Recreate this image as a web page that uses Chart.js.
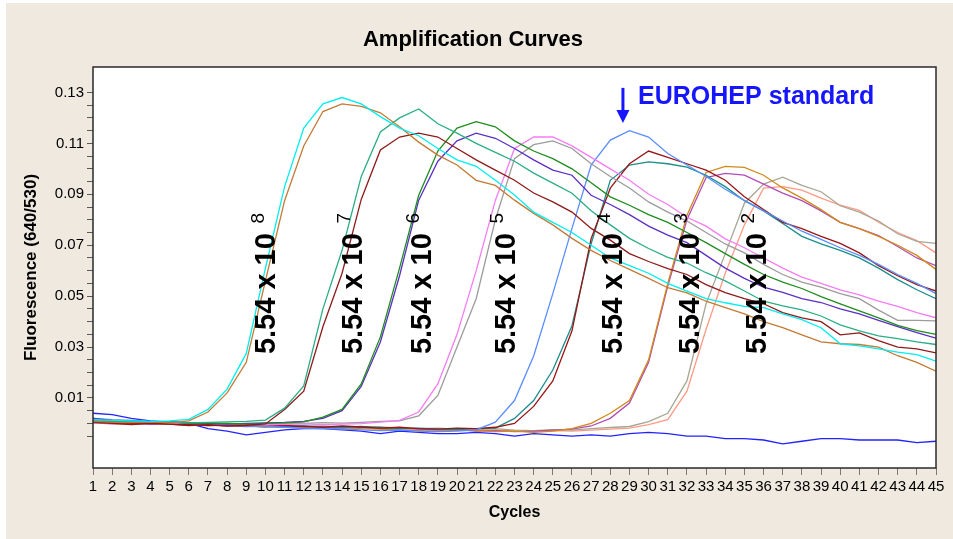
<!DOCTYPE html>
<html>
<head>
<meta charset="utf-8">
<title>Amplification Curves</title>
<script src="https://cdn.jsdelivr.net/npm/chart.js"></script>
<style>
  html, body { margin: 0; padding: 0; background: #ffffff; }
</style>
</head>
<body>
<canvas id="ampChart" width="953" height="539"></canvas>
<script>
// Cycle numbers (x axis)
const cycles = [1,2,3,4,5,6,7,8,9,10,11,12,13,14,15,16,17,18,19,20,21,22,23,
  24,25,26,27,28,29,30,31,32,33,34,35,36,37,38,39,40,41,42,43,44,45];

// Y axis ticks: minor every 0.005, labels on the odd hundredths
const yTickValues = [-0.005,0,0.005,0.01,0.015,0.02,0.025,0.03,0.035,0.04,0.045,0.05,
  0.055,0.06,0.065,0.07,0.075,0.08,0.085,0.09,0.095,0.1,0.105,0.11,0.115,0.12,0.125,0.13];
const yLabelValues = [0.01,0.03,0.05,0.07,0.09,0.11,0.13];

// Fluorescence (640/530) per cycle, one array per sample
const cyan8 = [0.0015,0.0012,0.0010,0.0008,0.0010,0.0016,0.0055,0.0135,0.0275,0.0610,
  0.0930,0.1160,0.1255,0.1280,0.1255,0.1205,0.1160,0.1130,0.1080,0.1035,
  0.1010,0.0955,0.0897,0.0830,0.0790,0.0750,0.0700,0.0650,0.0620,0.0590,
  0.0550,0.0520,0.0490,0.0474,0.0460,0.0455,0.0430,0.0408,0.0376,0.0313,
  0.0305,0.0293,0.0280,0.0270,0.0245];
const brown8 = [0.0008,0.0005,0.0003,0.0006,0.0002,0.0010,0.0045,0.0120,0.0240,0.0560,
  0.0875,0.1090,0.1225,0.1255,0.1245,0.1220,0.1165,0.1105,0.1054,0.1015,
  0.0955,0.0935,0.0877,0.0825,0.0780,0.0727,0.0680,0.0640,0.0605,0.0570,
  0.0533,0.0513,0.0480,0.0455,0.0430,0.0400,0.0376,0.0348,0.0320,0.0313,
  0.0310,0.0300,0.0266,0.0240,0.0205];
const tealGreen7 = [0.0012,0.0010,0.0008,0.0004,0.0006,0.0002,0.0004,0.0006,0.0008,0.0013,
  0.0060,0.0147,0.0450,0.0680,0.0970,0.1145,0.1200,0.1235,0.1177,0.1140,
  0.1100,0.1065,0.1030,0.0983,0.0944,0.0904,0.0835,0.0780,0.0727,0.0687,
  0.0652,0.0630,0.0592,0.0560,0.0520,0.0480,0.0462,0.0446,0.0422,0.0387,
  0.0364,0.0344,0.0333,0.0320,0.0310];
const darkRed7 = [0.0005,0.0000,-0.0005,0.0000,-0.0003,-0.0008,-0.0005,-0.0010,-0.0007,-0.0002,
  0.0055,0.0127,0.0380,0.0590,0.0880,0.1074,0.1125,0.1140,0.1125,0.1080,
  0.1035,0.0995,0.0955,0.0905,0.0870,0.0830,0.0766,0.0720,0.0667,0.0636,
  0.0608,0.0585,0.0545,0.0514,0.0490,0.0470,0.0435,0.0415,0.0400,0.0348,
  0.0356,0.0325,0.0300,0.0293,0.0277];
const green6 = [0.0010,0.0008,0.0005,0.0003,0.0006,0.0000,0.0002,0.0000,-0.0003,0.0000,
  0.0002,0.0006,0.0025,0.0055,0.0155,0.0340,0.0610,0.0896,0.1070,0.1160,
  0.1185,0.1165,0.1110,0.1070,0.1040,0.1000,0.0945,0.0890,0.0857,0.0820,
  0.0790,0.0750,0.0710,0.0667,0.0625,0.0585,0.0555,0.0530,0.0498,0.0470,
  0.0442,0.0415,0.0385,0.0365,0.0350];
const purple6 = [0.0020,0.0012,0.0010,0.0005,0.0005,0.0002,0.0000,-0.0003,0.0000,0.0002,
  0.0004,0.0008,0.0020,0.0050,0.0145,0.0320,0.0580,0.0877,0.1030,0.1110,
  0.1140,0.1120,0.1080,0.1035,0.0995,0.0975,0.0896,0.0860,0.0820,0.0775,
  0.0740,0.0710,0.0660,0.0610,0.0570,0.0535,0.0515,0.0490,0.0475,0.0450,
  0.0430,0.0405,0.0380,0.0357,0.0335];
const pink5 = [0.0010,0.0006,0.0004,0.0006,0.0002,0.0000,-0.0002,0.0000,-0.0003,-0.0006,
  -0.0004,-0.0002,-0.0005,-0.0003,-0.0001,0.0005,0.0012,0.0045,0.0155,0.0350,
  0.0600,0.0876,0.1080,0.1125,0.1125,0.1090,0.1045,0.1000,0.0955,0.0900,
  0.0860,0.0810,0.0775,0.0725,0.0690,0.0650,0.0610,0.0575,0.0550,0.0525,
  0.0505,0.0480,0.0460,0.0435,0.0415];
const gray5 = [0.0012,0.0008,0.0006,0.0003,0.0004,0.0001,0.0000,-0.0003,-0.0001,-0.0004,
  -0.0002,0.0000,0.0003,0.0001,0.0004,0.0008,0.0010,0.0030,0.0110,0.0300,
  0.0490,0.0800,0.1040,0.1095,0.1110,0.1080,0.1020,0.0970,0.0925,0.0870,
  0.0830,0.0795,0.0750,0.0705,0.0670,0.0625,0.0585,0.0555,0.0535,0.0510,
  0.0490,0.0445,0.0405,0.0405,0.0403];
const eurohep = [0.0020,0.0015,0.0012,0.0008,0.0006,0.0002,-0.0002,-0.0006,-0.0010,-0.0012,
  -0.0015,-0.0018,-0.0020,-0.0022,-0.0025,-0.0028,-0.0026,-0.0030,-0.0032,-0.0030,
  -0.0025,0.0005,0.0090,0.0265,0.0510,0.0766,0.1015,0.1113,0.1150,0.1125,
  0.1060,0.1015,0.0970,0.0920,0.0876,0.0835,0.0795,0.0755,0.0723,0.0690,
  0.0660,0.0625,0.0585,0.0550,0.0510];
const darkRed4 = [0.0008,0.0004,0.0000,0.0003,-0.0002,-0.0005,-0.0008,-0.0006,-0.0010,-0.0012,
  -0.0008,-0.0012,-0.0015,-0.0010,-0.0014,-0.0018,-0.0015,-0.0020,-0.0022,-0.0018,
  -0.0020,-0.0015,0.0000,0.0067,0.0167,0.0364,0.0726,0.0924,0.1020,0.1070,
  0.1045,0.1020,0.0995,0.0955,0.0890,0.0840,0.0790,0.0765,0.0735,0.0707,
  0.0670,0.0620,0.0580,0.0545,0.0520];
const teal4 = [0.0006,0.0003,0.0001,0.0002,-0.0002,-0.0004,-0.0006,-0.0008,-0.0006,-0.0010,
  -0.0012,-0.0010,-0.0014,-0.0016,-0.0012,-0.0016,-0.0020,-0.0018,-0.0022,-0.0024,
  -0.0020,-0.0018,0.0020,0.0090,0.0210,0.0384,0.0706,0.0955,0.1015,0.1027,
  0.1020,0.1007,0.0975,0.0930,0.0875,0.0835,0.0785,0.0735,0.0705,0.0680,
  0.0650,0.0610,0.0565,0.0525,0.0490];
const orange3 = [0.0004,0.0000,-0.0003,0.0001,-0.0004,-0.0006,-0.0008,-0.0006,-0.0010,-0.0014,
  -0.0012,-0.0015,-0.0018,-0.0015,-0.0020,-0.0022,-0.0025,-0.0028,-0.0030,-0.0025,
  -0.0028,-0.0032,-0.0030,-0.0035,-0.0030,-0.0020,0.0000,0.0040,0.0090,0.0250,
  0.0550,0.0817,0.0986,0.1010,0.1006,0.0975,0.0925,0.0885,0.0840,0.0790,
  0.0765,0.0735,0.0700,0.0660,0.0605];
const magenta3 = [0.0002,-0.0002,0.0000,-0.0004,-0.0003,-0.0007,-0.0005,-0.0009,-0.0012,-0.0010,
  -0.0014,-0.0012,-0.0016,-0.0018,-0.0015,-0.0020,-0.0018,-0.0022,-0.0026,-0.0024,
  -0.0030,-0.0028,-0.0032,-0.0030,-0.0026,-0.0022,-0.0010,0.0020,0.0080,0.0240,
  0.0540,0.0800,0.0966,0.0982,0.0975,0.0940,0.0905,0.0875,0.0835,0.0790,
  0.0765,0.0738,0.0695,0.0650,0.0620];
const grayGreen2 = [0.0010,0.0006,0.0004,0.0001,0.0002,-0.0002,-0.0004,-0.0002,-0.0006,-0.0008,
  -0.0010,-0.0012,-0.0010,-0.0014,-0.0016,-0.0014,-0.0018,-0.0020,-0.0018,-0.0022,
  -0.0024,-0.0020,-0.0026,-0.0028,-0.0024,-0.0026,-0.0020,-0.0016,-0.0012,0.0007,
  0.0040,0.0167,0.0470,0.0667,0.0865,0.0940,0.0967,0.0935,0.0910,0.0855,
  0.0830,0.0795,0.0745,0.0715,0.0707];
const salmon2 = [0.0003,0.0000,0.0002,-0.0002,-0.0004,-0.0003,-0.0007,-0.0010,-0.0008,-0.0012,
  -0.0014,-0.0012,-0.0016,-0.0018,-0.0015,-0.0020,-0.0022,-0.0020,-0.0024,-0.0026,
  -0.0028,-0.0025,-0.0030,-0.0032,-0.0028,-0.0030,-0.0026,-0.0022,-0.0018,-0.0005,
  0.0015,0.0127,0.0370,0.0590,0.0780,0.0924,0.0930,0.0916,0.0885,0.0857,
  0.0837,0.0790,0.0750,0.0718,0.0670];
const noTemplate = [0.0040,0.0035,0.0020,0.0010,0.0005,0.0000,-0.0020,-0.0030,-0.0045,-0.0035,
  -0.0025,-0.0020,-0.0020,-0.0025,-0.0030,-0.0040,-0.0030,-0.0035,-0.0040,-0.0040,
  -0.0035,-0.0040,-0.0050,-0.0040,-0.0045,-0.0050,-0.0045,-0.0050,-0.0040,-0.0035,
  -0.0040,-0.0050,-0.0050,-0.0060,-0.0060,-0.0065,-0.0080,-0.0070,-0.0060,-0.0060,
  -0.0065,-0.0065,-0.0065,-0.0075,-0.0070];

// Dilution labels: exponent, cycle where the label sits, fluorescence level of its centre
const dilutionExponents = ['8','7','6','5','4','3','2'];
const dilutionLabelCycle = [10.1, 14.6, 18.2, 22.6, 28.2, 32.2, 35.7];
const dilutionLabelLevel = 0.051;

// EUROHEP standard pointer
const eurohepArrowCycle = 28.66;
const eurohepArrowFrom = 0.1318;
const eurohepArrowTo = 0.118;
const eurohepTextCycle = 29.45;
const eurohepTextLevel = 0.1283;

const FONT = '"Liberation Sans", Arial, sans-serif';

const seriesList = [
  { name: '5.54 x 10^8 (1)', values: cyan8, color: '#00eef0' },
  { name: '5.54 x 10^8 (2)', values: brown8, color: '#c47a35' },
  { name: '5.54 x 10^7 (1)', values: tealGreen7, color: '#2aae86' },
  { name: '5.54 x 10^7 (2)', values: darkRed7, color: '#8e1b1b' },
  { name: '5.54 x 10^6 (1)', values: green6, color: '#1e8c1e' },
  { name: '5.54 x 10^6 (2)', values: purple6, color: '#5b2fc4' },
  { name: '5.54 x 10^5 (1)', values: pink5, color: '#f57cf5' },
  { name: '5.54 x 10^5 (2)', values: gray5, color: '#9c9c9c' },
  { name: 'EUROHEP standard', values: eurohep, color: '#5a8dff' },
  { name: '5.54 x 10^4 (1)', values: darkRed4, color: '#9a1414' },
  { name: '5.54 x 10^4 (2)', values: teal4, color: '#1d8c8c' },
  { name: '5.54 x 10^3 (1)', values: orange3, color: '#d08a18' },
  { name: '5.54 x 10^3 (2)', values: magenta3, color: '#b24cb8' },
  { name: '5.54 x 10^2 (1)', values: grayGreen2, color: '#a6a694' },
  { name: '5.54 x 10^2 (2)', values: salmon2, color: '#ff9a84' },
  { name: 'negative control', values: noTemplate, color: '#2323ff' }
];

// Beige panel, white plot area, frame and the text annotations
const decorPlugin = {
  id: 'decor',
  beforeDraw(chart) {
    const { ctx, chartArea: a } = chart;
    ctx.save();
    ctx.fillStyle = '#efe9e0';
    ctx.fillRect(6, 3, chart.width - 6, chart.height - 3);
    ctx.fillStyle = '#ffffff';
    ctx.fillRect(a.left, a.top, a.right - a.left, a.bottom - a.top);
    ctx.restore();
  },
  afterDatasetsDraw(chart) {
    const { ctx, chartArea: a } = chart;
    const xs = chart.scales.x, ys = chart.scales.y;
    ctx.save();
    ctx.strokeStyle = '#2a2a2a';
    ctx.lineWidth = 1.5;
    ctx.strokeRect(a.left, a.top, a.right - a.left, a.bottom - a.top);

    // rotated "5.54 x 10^n" labels
    ctx.fillStyle = '#000000';
    dilutionExponents.forEach((exp, i) => {
      const px = xs.getPixelForValue(dilutionLabelCycle[i]);
      const py = ys.getPixelForValue(dilutionLabelLevel);
      ctx.save();
      ctx.translate(px, py);
      ctx.rotate(-Math.PI / 2);
      ctx.textAlign = 'center';
      ctx.textBaseline = 'middle';
      ctx.font = 'bold 29px ' + FONT;
      ctx.fillText('5.54 x 10', 0, 0);
      const w = ctx.measureText('5.54 x 10').width;
      ctx.font = '19px ' + FONT;
      ctx.fillText(exp, w / 2 + 15, -9);
      ctx.restore();
    });

    // EUROHEP arrow + text
    const ax = xs.getPixelForValue(eurohepArrowCycle);
    const ay0 = ys.getPixelForValue(eurohepArrowFrom);
    const ay1 = ys.getPixelForValue(eurohepArrowTo);
    ctx.strokeStyle = '#1515ff';
    ctx.fillStyle = '#1515ff';
    ctx.lineWidth = 3;
    ctx.beginPath();
    ctx.moveTo(ax, ay0);
    ctx.lineTo(ax, ay1 - 10);
    ctx.stroke();
    ctx.beginPath();
    ctx.moveTo(ax - 6.5, ay1 - 13);
    ctx.lineTo(ax + 6.5, ay1 - 13);
    ctx.lineTo(ax, ay1);
    ctx.closePath();
    ctx.fill();
    ctx.font = 'bold 25px ' + FONT;
    ctx.textAlign = 'left';
    ctx.textBaseline = 'middle';
    ctx.fillText('EUROHEP standard', xs.getPixelForValue(eurohepTextCycle), ys.getPixelForValue(eurohepTextLevel));
    ctx.restore();
  }
};

const ctx = document.getElementById('ampChart').getContext('2d');
const ampChart = new Chart(ctx, {
  type: 'line',
  data: {
    datasets: seriesList.map(s => ({
      label: s.name,
      data: cycles.map((c, i) => ({ x: c, y: s.values[i] })),
      borderColor: s.color,
      backgroundColor: s.color,
      borderWidth: 1.3,
      pointRadius: 0,
      tension: 0,
      fill: false
    }))
  },
  options: {
    responsive: false,
    animation: false,
    devicePixelRatio: 1,
    layout: { padding: { left: 10, right: 17, top: 0, bottom: 10 } },
    plugins: {
      legend: { display: false },
      tooltip: { enabled: false },
      title: {
        display: true,
        text: 'Amplification Curves',
        color: '#000000',
        font: { family: FONT, size: 22, weight: 'bold' },
        padding: { top: 27, bottom: 13.6 }
      }
    },
    scales: {
      x: {
        type: 'linear',
        min: 1,
        max: 45,
        afterFit: (scale) => { scale.height = 61; },
        grid: { drawOnChartArea: false, tickLength: 7, tickColor: '#7a7a7a' },
        border: { display: false },
        ticks: {
          stepSize: 1,
          autoSkip: false,
          maxRotation: 0,
          minRotation: 0,
          padding: 3,
          color: '#000000',
          font: { family: FONT, size: 15 }
        },
        title: {
          display: true,
          text: 'Cycles',
          color: '#000000',
          font: { family: FONT, size: 16, weight: 'bold' },
          padding: { top: 0, bottom: 6.4 }
        }
      },
      y: {
        type: 'linear',
        min: -0.0175,
        max: 0.14,
        afterFit: (scale) => { scale.width = 83; },
        afterBuildTicks: (axis) => { axis.ticks = yTickValues.map(v => ({ value: v })); },
        grid: { drawOnChartArea: false, tickLength: 6, tickColor: '#5a5a5a' },
        border: { display: false },
        ticks: {
          autoSkip: false,
          padding: 3,
          color: '#000000',
          font: { family: FONT, size: 15 },
          callback: (v) => yLabelValues.some(l => Math.abs(l - v) < 1e-9) ? Number(v).toFixed(2) : ''
        },
        title: {
          display: true,
          text: 'Fluorescence (640/530)',
          color: '#000000',
          font: { family: FONT, size: 17, weight: 'bold' },
          padding: { top: 11, bottom: 0 }
        }
      }
    }
  },
  plugins: [decorPlugin]
});
</script>
</body>
</html>
